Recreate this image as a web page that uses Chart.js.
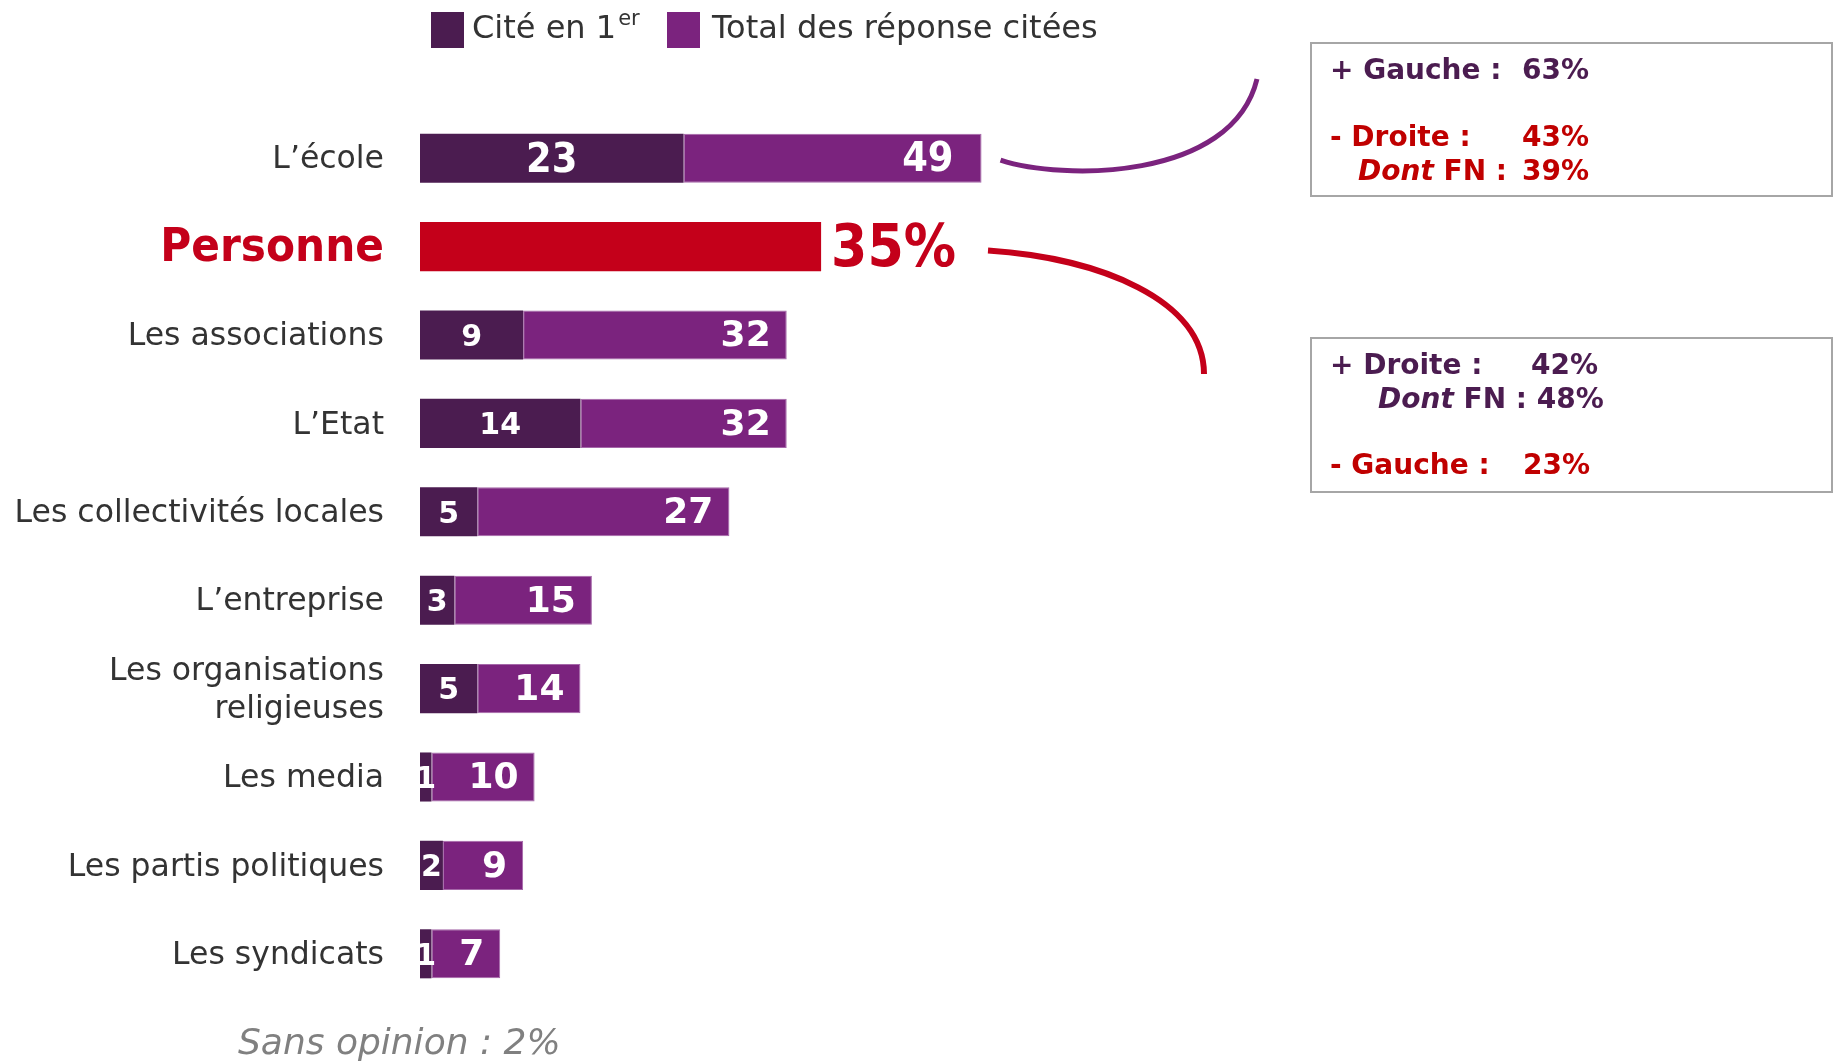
<!DOCTYPE html>
<html>
<head>
<meta charset="utf-8">
<script src="https://cdn.jsdelivr.net/npm/chart.js@4.4.1/dist/chart.umd.min.js"></script>
<style>
  html, body { margin:0; padding:0; background:#fff; }
  #wrap { width:1833px; height:1064px; position:relative; }
</style>
</head>
<body>
<div id="wrap"><canvas id="graf"></canvas></div>
<script>
// categories and values
const categories = ["L’école", "Personne", "Les associations", "L’Etat", "Les collectivités locales",
  "L’entreprise", ["Les organisations", "religieuses"], "Les media", "Les partis politiques", "Les syndicats"];
const citeEn1er   = [23, null, 9, 14, 5, 3, 5, 1, 2, 1];
const totalCitees = [49, null, 32, 32, 27, 15, 14, 10, 9, 7];
const personne    = [null, 35, null, null, null, null, null, null, null, null];
const legendLabels = ["Cité en 1", "Total des réponse citées"];
const sansOpinion = "Sans opinion : 2%";

// side boxes: [label, value, color]
const boxGauche = [
  ["+ Gauche :", "63%", "#4B1C50"],
  ["- Droite :", "43%", "#C00000"],
  ["Dont FN :", "39%", "#C00000"]
];
const boxDroite = [
  ["+ Droite :", "42%", "#4B1C50"],
  ["Dont FN : 48%", "", "#4B1C50"],
  ["- Gauche :", "23%", "#C00000"]
];

const DARK = "#4B1C50", PURPLE = "#7B237E", RED = "#C4001A";
const FONT = "'DejaVu Sans', Verdana, sans-serif";
const COND = "'DejaVu Sans Condensed', 'DejaVu Sans', sans-serif";

const labelsPlugin = {
  id: "valeurs",
  afterDatasetsDraw(chart) {
    const ctx = chart.ctx;
    ctx.save();
    ctx.textBaseline = "middle";
    ctx.fillStyle = "#fff";
    chart.getDatasetMeta(0).data.forEach((el, i) => {
      const v = citeEn1er[i];
      if (v == null) return;
      ctx.font = i === 0 ? "bold 41px " + COND : "bold 30px " + FONT;
      ctx.textAlign = "center";
      ctx.fillText(String(v), (el.x + el.base) / 2, el.y + 3);
    });
    chart.getDatasetMeta(1).data.forEach((el, i) => {
      const v = totalCitees[i];
      if (v == null) return;
      ctx.font = i === 0 ? "bold 41px " + COND : "bold 36px " + FONT;
      ctx.textAlign = "right";
      ctx.fillText(String(v), el.x - (i === 0 ? 28 : 16), el.y + 2);
    });
    chart.getDatasetMeta(2).data.forEach((el, i) => {
      const v = personne[i];
      if (v == null) return;
      ctx.font = "bold 58px " + COND;
      ctx.textAlign = "left";
      ctx.fillStyle = RED;
      ctx.fillText(v + "%", el.x + 10, el.y + 4);
    });
    ctx.restore();
  }
};

const decorPlugin = {
  id: "decor",
  afterDraw(chart) {
    const ctx = chart.ctx;
    ctx.save();
    // legend
    ctx.textBaseline = "middle";
    ctx.textAlign = "left";
    ctx.fillStyle = DARK;
    ctx.fillRect(431, 12, 33, 36);
    ctx.fillStyle = PURPLE;
    ctx.fillRect(667, 12, 33, 36);
    ctx.fillStyle = "#333";
    ctx.font = "32px " + FONT;
    ctx.fillText(legendLabels[0], 472, 30);
    const w = ctx.measureText(legendLabels[0]).width;
    ctx.font = "21px " + FONT;
    ctx.fillText("er", 472 + w + 2, 20);
    ctx.font = "32px " + FONT;
    ctx.fillText(legendLabels[1], 712, 30);

    // sans opinion
    ctx.font = "italic 36px " + FONT;
    ctx.fillStyle = "#808080";
    ctx.fillText(sansOpinion, 238, 1045);

    // curves anchored on bars
    const e0 = chart.getDatasetMeta(1).data[0];
    ctx.lineCap = "butt";
    ctx.strokeStyle = PURPLE;
    ctx.lineWidth = 5;
    ctx.beginPath();
    ctx.moveTo(e0.x + 19, e0.y + 2);
    ctx.bezierCurveTo(1060, 180, 1232, 182, 1257, 79);
    ctx.stroke();

    const e1 = chart.getDatasetMeta(2).data[1];
    ctx.strokeStyle = RED;
    ctx.lineWidth = 6;
    ctx.beginPath();
    ctx.moveTo(988, e1.y + 4);
    ctx.bezierCurveTo(1100, 258, 1204, 300, 1204, 374);
    ctx.stroke();

    // boxes
    ctx.strokeStyle = "#a6a6a6";
    ctx.lineWidth = 2;
    ctx.strokeRect(1311, 43, 521, 153);
    ctx.strokeRect(1311, 338, 521, 154);

    const drawLine = (row, x, y, valX) => {
      ctx.fillStyle = row[2];
      const t = row[0];
      if (t.startsWith("Dont")) {
        ctx.font = "italic bold 28px " + FONT;
        ctx.fillText("Dont", x, y);
        const dw = ctx.measureText("Dont ").width;
        ctx.font = "bold 28px " + FONT;
        ctx.fillText(t.slice(5), x + dw, y);
      } else {
        ctx.font = "bold 28px " + FONT;
        ctx.fillText(t, x, y);
      }
      if (row[1]) {
        ctx.font = "bold 28px " + FONT;
        ctx.fillText(row[1], valX, y);
      }
    };
    drawLine(boxGauche[0], 1330, 72, 1522);
    drawLine(boxGauche[1], 1330, 139, 1522);
    drawLine(boxGauche[2], 1358, 173, 1522);
    drawLine(boxDroite[0], 1330, 367, 1531);
    drawLine(boxDroite[1], 1378, 401, 0);
    drawLine(boxDroite[2], 1330, 467, 1523);
    ctx.restore();
  }
};

const cnv = document.getElementById("graf");
new Chart(cnv, {
  type: "bar",
  data: {
    labels: categories,
    datasets: [
      { label: legendLabels[0], data: citeEn1er, backgroundColor: DARK, borderWidth: 0 },
      { label: legendLabels[1], data: totalCitees.map((t, i) => t == null ? null : [citeEn1er[i], t]),
        backgroundColor: PURPLE, borderColor: "#a567a9", borderWidth: 1, borderSkipped: false },
      { label: "Personne", data: personne, backgroundColor: RED, borderWidth: 0 }
    ]
  },
  options: {
    indexAxis: "y",
    responsive: true,
    maintainAspectRatio: false,
    animation: false,
    grouped: false,
    barPercentage: 1,
    categoryPercentage: 0.555,
    layout: { padding: { top: 114, bottom: 66, left: 0, right: 267 } },
    plugins: { legend: { display: false }, tooltip: { enabled: false } },
    scales: {
      x: { display: false, min: 0, max: 100 },
      y: {
        afterFit: (s) => { s.width = 420; },
        grid: { display: false, drawTicks: false },
        border: { display: false },
        ticks: {
          padding: 36,
          labelOffset: 2,
          color: (c) => c.index === 1 ? RED : "#333",
          font: (c) => c.index === 1
            ? { family: COND, size: 47, weight: "bold" }
            : { family: FONT, size: 31.5, weight: "normal", lineHeight: 1.2 }
        }
      }
    }
  },
  plugins: [labelsPlugin, decorPlugin]
});
</script>
</body>
</html>
